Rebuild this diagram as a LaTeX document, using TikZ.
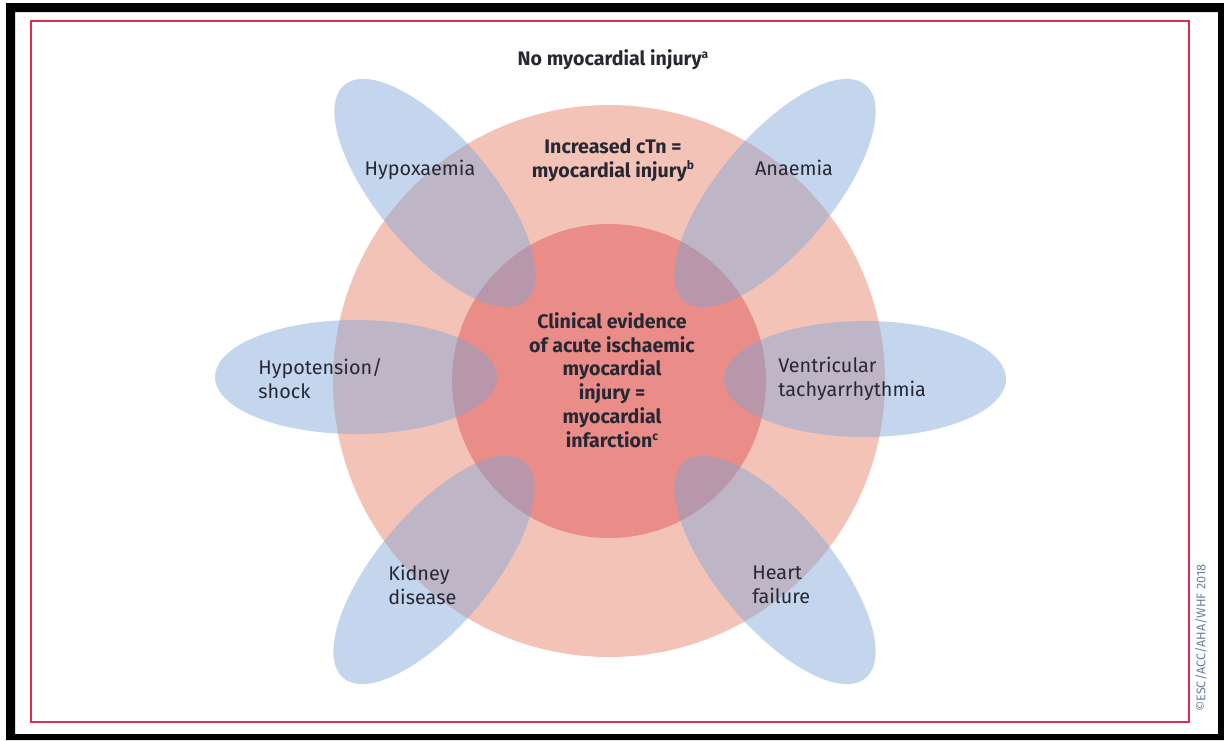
\documentclass[tikz,border=0pt]{standalone}
\usepackage{fontspec}
\setmainfont{Fira Sans}
\usepackage{tikz}
\usetikzlibrary{positioning}
\definecolor{frameRed}{RGB}{222,45,80}
\definecolor{outerRed}{RGB}{244,195,183}
\definecolor{innerRed}{RGB}{234,140,135}
\definecolor{petalBlue}{RGB}{125,165,217}
\definecolor{txtDark}{RGB}{40,40,52}
\definecolor{copyGrey}{RGB}{110,125,160}
\newcommand{\supr}[1]{\raisebox{0.7ex}{\fontsize{6}{6}\selectfont #1}}

\begin{document}
\begin{tikzpicture}[
x=0.5pt, y=0.5pt,
    E/.style = {fill=petalBlue, fill opacity=0.45},% petals round the circles
    T/.style = {inner sep=0pt, text=txtDark,
                font=\fontsize{9.9}{11.9}\selectfont,
                #1},
    T/.default = {align=left, anchor=west},
    H/.style = {T={align=center, font=\fontsize{9.8}{11.9}\selectfont\bfseries}},
                    ]
\useasboundingbox (0,0) rectangle (1224,-740);
% black outer frame
\fill[black, even odd rule] (6,-3) rectangle (1224,-740)
                            (15,-12) rectangle (1218,-734);
\draw[frameRed, line width=1pt] (31,-21) rectangle (1189,-722);
% circles
\fill[outerRed] (609,-381) circle [radius=276];
\fill[innerRed] (609,-381) circle [radius=157];
% ellipses
\foreach \cx/\cy/\a/\r in {435/193/-50/57, 775/193/50/57, 434/570/50/57,
                          775/570/-50/57, 356/377/0/57, 865/379/0/58}
    \fill[E, rotate around={\a:(\cx,-\cy)}] (\cx,-\cy)
        ellipse [x radius=141, y radius=\r];
% labels
\node[H] (none)   at (613,-60)  {No myocardial injury\supr{a}};
\node[H] (injury) at (613,-160) {Increased cTn =\\myocardial injury\supr{b}};
\node[H] (infarct) at (612,-380) {Clinical evidence\\of acute ischaemic\\myocardial\\injury =\\myocardial\\infarction\supr{c}};
\node[T={align=center}] (hypox) at (420,-170) {Hypoxaemia};
\node[T={align=center}] (anaem) at (794,-168) {Anaemia};
\node[T] (hypot) at (258,-379) {Hypotension/\\shock};
\node[T] (ventr) at (778,-379) {Ventricular\\tachyarrhythmia};
\node[T] (kidney) at (388,-585) {Kidney\\disease};
\node[T] (heart) at (752,-585) {Heart\\failure};
\node[inner sep=0pt, rotate=90, text=copyGrey,
      font=\fontsize{6.3}{7}\selectfont] (copy) at (1201,-638) {©ESC/ACC/AHA/WHF 2018};
\end{tikzpicture}
\end{document}
